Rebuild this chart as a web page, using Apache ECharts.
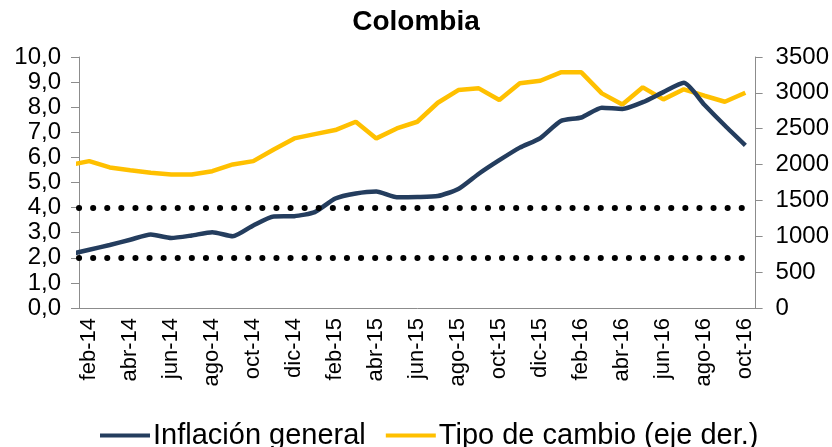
<!DOCTYPE html>
<html>
<head>
<meta charset="utf-8">
<script src="https://cdn.jsdelivr.net/npm/echarts@6/dist/echarts.min.js"></script>
<style>
  html, body { margin: 0; padding: 0; background: #fff; }
  #chart { width: 832px; height: 447px; }
</style>
</head>
<body>
<div id="chart"></div>
<script>
// meses (ene-14 solo sirve para el tramo que entra por el borde izquierdo)
const months = ['ene-14', 'feb-14', 'mar-14', 'abr-14', 'may-14', 'jun-14', 'jul-14', 'ago-14', 'sep-14', 'oct-14', 'nov-14', 'dic-14',
  'ene-15', 'feb-15', 'mar-15', 'abr-15', 'may-15', 'jun-15', 'jul-15', 'ago-15', 'sep-15', 'oct-15', 'nov-15', 'dic-15',
  'ene-16', 'feb-16', 'mar-16', 'abr-16', 'may-16', 'jun-16', 'jul-16', 'ago-16', 'sep-16', 'oct-16'];
// Inflación general (%), eje izquierdo
const inflacion = [2.13, 2.32, 2.51, 2.72, 2.93, 2.79, 2.89, 3.02, 2.86, 3.29, 3.65, 3.66,
  3.82, 4.36, 4.56, 4.64, 4.41, 4.42, 4.46, 4.74, 5.35, 5.89, 6.39, 6.77,
  7.45, 7.59, 7.98, 7.93, 8.20, 8.60, 8.97, 8.10, 7.27, 6.48];
// Tipo de cambio (COP/USD), eje derecho
const tipoCambio = [1990, 2048, 1960, 1922, 1885, 1862, 1862, 1908, 2002, 2048, 2211, 2365,
  2425, 2481, 2597, 2365, 2504, 2597, 2862, 3039, 3063, 2900, 3133, 3169,
  3286, 3286, 2993, 2839, 3077, 2909, 3049, 2960, 2876, 3001];
// rango meta de inflación
const metaInflacion = [2, 4];

const navy = '#243d5e';
const gold = '#ffc000';
const axisGray = '#8c8c8c';
const font = 'Liberation Sans, Arial, sans-serif';

// categorías visibles: desde feb-14
const categories = months.slice(1);
// posición de cada punto en el centro de su mes (ene-14 queda fuera y se recorta)
const toXY = (arr) => arr.map((v, i) => [i - 0.5, v]);

const myChart = echarts.init(document.getElementById('chart'));
const option = {
  backgroundColor: '#fff',
  animation: false,
  textStyle: { fontFamily: font },
  title: {
    text: 'Colombia',
    left: 'center',
    top: 3,
    textStyle: { fontSize: 28, fontWeight: 'bold', color: '#000', fontFamily: font }
  },
  legend: {
    left: 95,
    top: 416,
    icon: 'rect',
    itemWidth: 50,
    itemHeight: 4,
    itemGap: 20,
    textStyle: { fontSize: 29, color: '#000', fontFamily: font, padding: [0, 0, 0, -2] },
    data: ['Inflación general', 'Tipo de cambio (eje der.)']
  },
  grid: { left: 79, right: 76, top: 57, bottom: 139, containLabel: false },
  xAxis: [
    {
      type: 'category',
      data: categories,
      boundaryGap: true,
      axisLine: { lineStyle: { color: axisGray, width: 1 } },
      axisTick: { interval: 1, length: 8, lineStyle: { color: axisGray } },
      axisLabel: {
        interval: 1,
        rotate: 90,
        margin: 10,
        fontSize: 22,
        color: '#000',
        fontFamily: font
      },
      splitLine: { show: false }
    },
    {
      type: 'value',
      min: 0,
      max: categories.length,
      show: false
    }
  ],
  yAxis: [
    {
      type: 'value',
      min: 0,
      max: 10,
      interval: 1,
      position: 'left',
      axisLine: { show: true, lineStyle: { color: axisGray } },
      axisTick: { show: true, length: 8, lineStyle: { color: axisGray } },
      axisLabel: {
        margin: 18,
        fontSize: 24,
        color: '#000',
        fontFamily: font,
        formatter: (v) => v.toFixed(1).replace('.', ',')
      },
      splitLine: { show: false }
    },
    {
      type: 'value',
      min: 0,
      max: 3500,
      interval: 500,
      position: 'right',
      axisLine: { show: true, lineStyle: { color: axisGray } },
      axisTick: { show: true, length: 7, lineStyle: { color: axisGray } },
      axisLabel: {
        margin: 20,
        fontSize: 24,
        color: '#000',
        fontFamily: font,
        formatter: (v) => String(v)
      },
      splitLine: { show: false }
    }
  ],
  series: [
    {
      name: 'Inflación general',
      type: 'line',
      xAxisIndex: 1,
      yAxisIndex: 0,
      data: toXY(inflacion),
      showSymbol: false,
      smooth: 0.2,
      clip: true,
      z: 3,
      itemStyle: { color: navy },
      lineStyle: { color: navy, width: 4.5 },
      markLine: {
        silent: true,
        symbol: 'none',
        label: { show: false },
        lineStyle: { color: '#000', width: 6, type: [0.1, 14], cap: 'round' },
        data: metaInflacion.map((v) => ({ yAxis: v }))
      }
    },
    {
      name: 'Tipo de cambio (eje der.)',
      type: 'line',
      xAxisIndex: 1,
      yAxisIndex: 1,
      data: toXY(tipoCambio),
      showSymbol: false,
      clip: true,
      z: 2,
      itemStyle: { color: gold },
      lineStyle: { color: gold, width: 4.5 }
    }
  ]
};
myChart.setOption(option);
</script>
</body>
</html>
